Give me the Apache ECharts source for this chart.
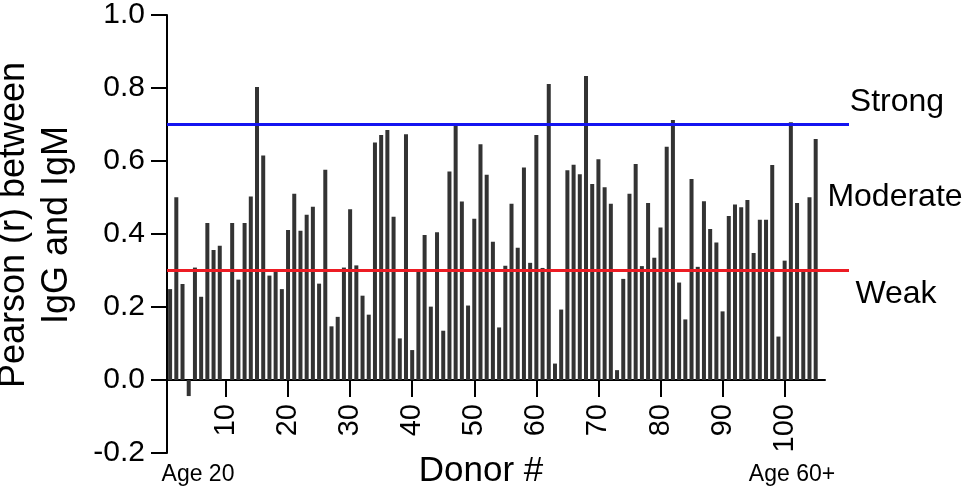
<!DOCTYPE html>
<html>
<head>
<meta charset="utf-8">
<script src="https://cdn.jsdelivr.net/npm/echarts@6/dist/echarts.min.js"></script>
<style>
  html, body { margin: 0; padding: 0; background: #fff; }
  #chart { width: 968px; height: 492px; }
</style>
</head>
<body>
<div id="chart"></div>
<script>
// Pearson r per donor, ordered by age (donor 1 .. 105)
const pearsonR = [
  0.249, 0.501, 0.263, -0.044, 0.308, 0.228, 0.430, 0.356, 0.368, 0.000,
  0.430, 0.275, 0.430, 0.503, 0.803, 0.615, 0.286, 0.300, 0.249, 0.411,
  0.510, 0.409, 0.453, 0.475, 0.264, 0.576, 0.147, 0.173, 0.308, 0.468,
  0.314, 0.231, 0.179, 0.651, 0.671, 0.685, 0.447, 0.114, 0.673, 0.082,
  0.301, 0.397, 0.201, 0.405, 0.135, 0.571, 0.704, 0.489, 0.204, 0.442,
  0.646, 0.562, 0.379, 0.144, 0.313, 0.483, 0.362, 0.582, 0.321, 0.671,
  0.307, 0.811, 0.045, 0.193, 0.575, 0.590, 0.564, 0.833, 0.537, 0.605,
  0.528, 0.483, 0.027, 0.277, 0.510, 0.592, 0.312, 0.485, 0.335, 0.418,
  0.639, 0.712, 0.267, 0.166, 0.551, 0.310, 0.490, 0.414, 0.377, 0.188,
  0.449, 0.481, 0.473, 0.493, 0.348, 0.439, 0.439, 0.589, 0.119, 0.327,
  0.706, 0.485, 0.299, 0.501, 0.660
];
const donors = pearsonR.map((v, i) => i + 1);
// one empty slot after the last donor, the axis runs a little past it
const categories = donors.concat(['']);
const xTickLabels = [10, 20, 30, 40, 50, 60, 70, 80, 90, 100];
const yTicks = [-0.2, 0.0, 0.2, 0.4, 0.6, 0.8, 1.0];
const strongCut = 0.7;
const weakCut = 0.3;
const bandLabels = ['Strong', 'Moderate', 'Weak'];

const FONT = "'Liberation Sans', Arial, sans-serif";
const showTick = (idx, val) => xTickLabels.indexOf(Number(val)) >= 0;

const W = 968, H = 492;
const gridTop = 15, gridBottom = 39;
const yMin = yTicks[0], yMax = yTicks[yTicks.length - 1];
// x axis (line, ticks and labels together) sits at r = 0
const plotH = H - gridTop - gridBottom;
const xAxisOffset = -plotH * (0 - yMin) / (yMax - yMin);

const chart = echarts.init(document.getElementById('chart'), null, { renderer: 'canvas' });

const option = {
  animation: false,
  backgroundColor: '#ffffff',
  grid: [
    { left: 167, right: 143, top: gridTop, bottom: gridBottom, containLabel: false, outerBoundsMode: 'none' },
    { left: 167, right: 119, top: gridTop, bottom: gridBottom, containLabel: false, outerBoundsMode: 'none' }
  ],
  xAxis: [
    {
      type: 'category',
      gridIndex: 0,
      data: categories,
      boundaryGap: true,
      position: 'bottom',
      offset: xAxisOffset,
      axisLine: { show: true, onZero: false, lineStyle: { color: '#000', width: 2 } },
      axisTick: { show: true, alignWithLabel: true, interval: showTick, length: 17, lineStyle: { color: '#000', width: 2 } },
      axisLabel: {
        interval: showTick, rotate: 90, margin: 24, hideOverlap: false,
        color: '#000', fontSize: 29, fontFamily: FONT
      },
      splitLine: { show: false }
    },
    { type: 'value', gridIndex: 1, min: 0, max: 1, show: false }
  ],
  yAxis: [
    {
      type: 'value',
      gridIndex: 0,
      min: yMin,
      max: yMax,
      interval: 0.2,
      axisLine: { show: true, lineStyle: { color: '#000', width: 2 } },
      axisTick: { show: true, length: 16, lineStyle: { color: '#000', width: 2 } },
      axisLabel: {
        margin: 22, color: '#000', fontSize: 30, fontFamily: FONT,
        formatter: v => v.toFixed(1)
      },
      splitLine: { show: false }
    },
    { type: 'value', gridIndex: 1, min: yMin, max: yMax, show: false }
  ],
  series: [
    {
      // blue cut line sits under the bars
      type: 'line', xAxisIndex: 1, yAxisIndex: 1, data: [], z: 1,
      markLine: {
        silent: true, symbol: 'none', label: { show: false },
        lineStyle: { color: '#1414f0', width: 3, type: 'solid' },
        data: [{ yAxis: strongCut }]
      }
    },
    {
      type: 'bar', xAxisIndex: 0, yAxisIndex: 0, z: 2,
      data: pearsonR,
      barWidth: 4,
      itemStyle: { color: '#333333' }
    },
    {
      // red cut line is drawn over the bars
      type: 'line', xAxisIndex: 1, yAxisIndex: 1, data: [], z: 5,
      markLine: {
        silent: true, symbol: 'none', label: { show: false },
        lineStyle: { color: '#ec1c24', width: 3, type: 'solid' },
        data: [{ yAxis: weakCut }]
      }
    }
  ],
  graphic: [
    {
      type: 'text', x: 36, y: 225, rotation: Math.PI / 2,
      style: {
        text: 'Pearson (r) between\nIgG and IgM',
        font: '36px ' + FONT, fill: '#000',
        textAlign: 'center', textVerticalAlign: 'middle', lineHeight: 43
      }
    },
    { type: 'text', x: 481, y: 471, style: { text: 'Donor #', font: '35px ' + FONT, fill: '#000', textAlign: 'center', textVerticalAlign: 'middle' } },
    { type: 'text', x: 198, y: 475, style: { text: 'Age 20', font: '23px ' + FONT, fill: '#000', textAlign: 'center', textVerticalAlign: 'middle' } },
    { type: 'text', x: 792, y: 475, style: { text: 'Age 60+', font: '23px ' + FONT, fill: '#000', textAlign: 'center', textVerticalAlign: 'middle' } },
    { type: 'text', x: 897, y: 102, style: { text: bandLabels[0], font: '32px ' + FONT, fill: '#000', textAlign: 'center', textVerticalAlign: 'middle' } },
    { type: 'text', x: 895, y: 197, style: { text: bandLabels[1], font: '32px ' + FONT, fill: '#000', textAlign: 'center', textVerticalAlign: 'middle' } },
    { type: 'text', x: 896, y: 294, style: { text: bandLabels[2], font: '32px ' + FONT, fill: '#000', textAlign: 'center', textVerticalAlign: 'middle' } }
  ]
};

chart.setOption(option);
</script>
</body>
</html>
